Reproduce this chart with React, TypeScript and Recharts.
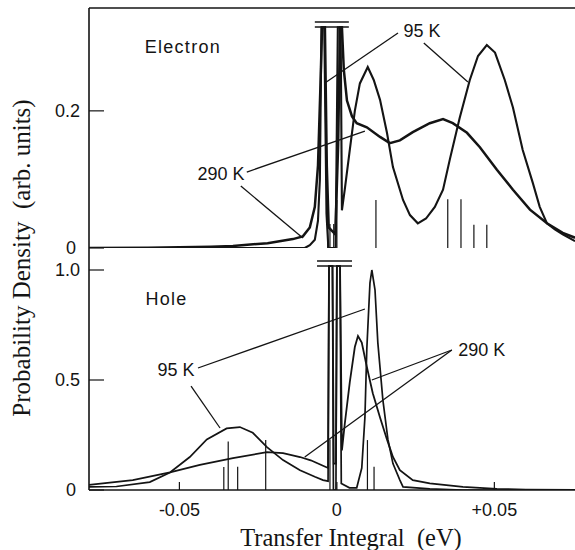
import React from 'react';
import { ComposedChart, Line, XAxis, YAxis, ReferenceLine, ReferenceDot } from 'recharts';

// ---------- axes ----------
const xDomain: [number, number] = [-0.0787, 0.0756];
const xTicks = [-0.05, 0, 0.05];
const xTickLabels = ['-0.05', '0', '+0.05'];

const electronDomain: [number, number] = [0, 0.35];
const electronTicks = [0, 0.2];
const electronTickLabels = ['0', '0.2'];

const holeDomain: [number, number] = [0, 1.1];
const holeTicks = [0, 0.5, 1.0];
const holeTickLabels = ['0', '0.5', '1.0'];

// ---------- Electron panel (x in eV, probability density) ----------
const electron95K: [number, number][] = [
  [-0.0787, 0], [-0.0102, 0.0], [-0.0086, 0.004], [-0.007, 0.012], [-0.006, 0.04],
  [-0.0054, 0.1], [-0.0049, 0.322], [-0.004, 0.322], [-0.0033, 0.05], [-0.0027, 0.0],
  [-0.0004, 0.0], [0.0003, 0.322], [0.0012, 0.322], [0.0016, 0.055], [0.0025, 0.085],
  [0.0041, 0.143], [0.0057, 0.2], [0.0073, 0.24], [0.0098, 0.264], [0.0117, 0.245],
  [0.0137, 0.216], [0.0159, 0.168], [0.0178, 0.118], [0.021, 0.07], [0.0232, 0.048],
  [0.0257, 0.036], [0.0283, 0.043], [0.0311, 0.06], [0.0337, 0.085], [0.0359, 0.13],
  [0.039, 0.19], [0.0422, 0.245], [0.0448, 0.28], [0.0476, 0.296], [0.0502, 0.285],
  [0.0533, 0.245], [0.0559, 0.205], [0.059, 0.143], [0.0622, 0.095], [0.0644, 0.06],
  [0.0667, 0.036], [0.0692, 0.027], [0.0717, 0.02], [0.0756, 0.01],
];

const electron290K: [number, number][] = [
  [-0.0787, 0.0], [-0.06, 0.0005], [-0.05, 0.001], [-0.04, 0.002], [-0.033, 0.003],
  [-0.022, 0.007], [-0.014, 0.013], [-0.0108, 0.017], [-0.0086, 0.03], [-0.007, 0.06],
  [-0.006, 0.12], [-0.0052, 0.24], [-0.0047, 0.322], [-0.0038, 0.322], [-0.0032, 0.12],
  [-0.0026, 0.03], [-0.0005, 0.02], [0.0004, 0.15], [0.001, 0.322], [0.0016, 0.322],
  [0.0022, 0.26], [0.0032, 0.215], [0.0048, 0.192], [0.0063, 0.182], [0.0095, 0.176],
  [0.0137, 0.162], [0.0168, 0.153], [0.02, 0.157], [0.0241, 0.169], [0.0295, 0.182],
  [0.0337, 0.188], [0.0368, 0.182], [0.0413, 0.168], [0.0454, 0.147], [0.0508, 0.114],
  [0.0559, 0.085], [0.0613, 0.056], [0.0667, 0.036], [0.0717, 0.022], [0.0756, 0.015],
];

const electronSticks: [number, number][] = [
  [-0.0029, 0.07], [-0.0022, 0.035], [-0.001, 0.035], [0.0, 0.07], [0.0124, 0.07],
  [0.0352, 0.071], [0.0394, 0.071], [0.0435, 0.034], [0.0476, 0.034],
];

// ---------- Hole panel ----------
const hole95K: [number, number][] = [
  [-0.0787, 0.014], [-0.07, 0.016], [-0.0594, 0.036], [-0.053, 0.08], [-0.0467, 0.15],
  [-0.0413, 0.23], [-0.035, 0.28], [-0.0308, 0.286], [-0.0267, 0.26], [-0.0222, 0.195],
  [-0.0171, 0.136], [-0.0117, 0.09], [-0.007, 0.06], [-0.0044, 0.045], [-0.0028, 0.04],
  [-0.0025, 1.018], [-0.0014, 1.018], [-0.0011, 0.0], [-0.0003, 0.0], [0.0, 1.018],
  [0.001, 1.018], [0.0014, 0.03], [0.004, 0.01], [0.0063, 0.01], [0.0079, 0.1],
  [0.0089, 0.33], [0.0095, 0.64], [0.0105, 0.94], [0.0111, 1.0], [0.0121, 0.91],
  [0.013, 0.67], [0.0146, 0.41], [0.0162, 0.23], [0.0178, 0.12], [0.02, 0.045],
  [0.021, 0.014], [0.0295, 0.005], [0.04, 0.0], [0.0756, 0.0],
];

const hole290K: [number, number][] = [
  [-0.0787, 0.023], [-0.0648, 0.045], [-0.053, 0.08], [-0.0435, 0.114], [-0.033, 0.145],
  [-0.0222, 0.172], [-0.0171, 0.168], [-0.0117, 0.15], [-0.0083, 0.135], [-0.0044, 0.11],
  [-0.0028, 0.1], [-0.0025, 1.018], [-0.0014, 1.018], [-0.001, 0.12], [-0.0003, 0.12],
  [0.0, 1.018], [0.001, 1.018], [0.0016, 0.18], [0.0025, 0.3], [0.0041, 0.49],
  [0.0057, 0.65], [0.0067, 0.7], [0.0079, 0.67], [0.0095, 0.56], [0.0114, 0.44],
  [0.0137, 0.33], [0.0159, 0.23], [0.0178, 0.15], [0.02, 0.09], [0.0241, 0.045],
  [0.0295, 0.03], [0.04, 0.014], [0.0508, 0.005], [0.06, 0.002], [0.0756, 0.0],
];

const holeSticks: [number, number][] = [
  [-0.0359, 0.105], [-0.0345, 0.22], [-0.0315, 0.106], [-0.0226, 0.227],
  [-0.0022, 0.23], [0.0097, 0.227], [0.0118, 0.106],
];

// ---------- annotations (data coordinates) ----------
const electronBreak = { x1: -0.007, x2: 0.0038, y: [0.3296, 0.3223] };
const holeBreak = { x1: -0.0063, x2: 0.0048, y: [1.041, 1.018] };

const electronTexts = [
  { x: -0.0489, y: 0.293, text: 'Electron', spacing: 1.3 },
  { x: 0.027, y: 0.3165, text: '95 K', spacing: 0 },
  { x: -0.0368, y: 0.1086, text: '290 K', spacing: 0 },
];
const electronPointers: [number, number, number, number][] = [
  [0.0194, 0.3135, -0.0038, 0.2406],
  [0.0276, 0.299, 0.0416, 0.242],
  [-0.0286, 0.1108, 0.0089, 0.1706],
  [-0.0305, 0.0904, -0.0108, 0.0146],
];
const holeTexts = [
  { x: -0.0541, y: 0.87, text: 'Hole', spacing: 1.2 },
  { x: -0.0511, y: 0.5455, text: '95 K', spacing: 0 },
  { x: 0.046, y: 0.6364, text: '290 K', spacing: 0 },
];
const holePointers: [number, number, number, number][] = [
  [-0.0441, 0.5545, 0.0089, 0.8227],
  [-0.0463, 0.4727, -0.0371, 0.2818],
  [0.0365, 0.6364, 0.0111, 0.5],
  [0.0365, 0.6364, -0.0102, 0.15],
];

const toPts = (pairs: [number, number][]) => pairs.map(([x, y]) => ({ x, y }));

const INK = '#141414';
const SANS = '"Liberation Sans", Arial, Helvetica, sans-serif';
const SERIF = '"Liberation Serif", "Times New Roman", serif';

const makeYTick = (ticks: number[], labels: string[]) => (props: any) => {
  const { x, y, payload } = props;
  const v = payload.value;
  const label = labels[ticks.indexOf(v)] ?? String(v);
  return (
    <text x={v === 0 ? x - 4 : x} y={y} dy="0.36em" textAnchor="end" fontSize={18} fill={INK} fontFamily={SANS}>
      {label}
    </text>
  );
};

const noTick = () => <g />;

const renderSticks = (sticks: [number, number][]) =>
  sticks.map(([x, h], i) => (
    <ReferenceLine key={`s${i}`} segment={[{ x, y: 0 }, { x, y: h }]} stroke={INK} strokeWidth={1.2} ifOverflow="visible" />
  ));

const renderPointers = (ptrs: [number, number, number, number][]) =>
  ptrs.map(([x1, y1, x2, y2], i) => (
    <ReferenceLine key={`p${i}`} segment={[{ x: x1, y: y1 }, { x: x2, y: y2 }]} stroke={INK} strokeWidth={1.3} ifOverflow="visible" />
  ));

const renderTexts = (texts: { x: number; y: number; text: string; spacing: number }[]) =>
  texts.map((t, i) => (
    <ReferenceDot
      key={`t${i}`}
      x={t.x}
      y={t.y}
      r={0}
      fill="none"
      stroke="none"
      ifOverflow="visible"
      label={{ value: t.text, position: 'center', fill: INK, fontSize: 18, fontFamily: SANS, letterSpacing: t.spacing }}
    />
  ));

const renderBreak = (b: { x1: number; x2: number; y: number[] }) =>
  b.y.map((yy, i) => (
    <ReferenceLine key={`b${i}`} segment={[{ x: b.x1, y: yy }, { x: b.x2, y: yy }]} stroke={INK} strokeWidth={1.6} ifOverflow="visible" />
  ));

export default function App() {
  return (
    <div style={{ position: 'absolute', left: 0, top: 0, width: 575, height: 550, background: '#fff', fontFamily: SANS }}>
      <div style={{ position: 'absolute', left: 0, top: 0 }}>
        <ComposedChart width={575} height={262} margin={{ top: 8, right: 0, bottom: 14, left: 0 }}>
          <XAxis
            dataKey="x"
            type="number"
            domain={xDomain}
            ticks={xTicks}
            interval={0}
            allowDataOverflow
            height={0}
            tick={noTick}
            tickSize={-9}
            axisLine={{ stroke: INK, strokeWidth: 1.6 }}
            tickLine={{ stroke: INK, strokeWidth: 1.2 }}
          />
          <YAxis
            type="number"
            domain={electronDomain}
            ticks={electronTicks}
            interval={0}
            allowDataOverflow
            width={89}
            tickSize={-15}
            tickMargin={24}
            tick={makeYTick(electronTicks, electronTickLabels)}
            axisLine={{ stroke: INK, strokeWidth: 1.6 }}
            tickLine={{ stroke: INK, strokeWidth: 1.2 }}
          />
          <ReferenceLine y={electronDomain[1]} stroke={INK} strokeWidth={1.6} ifOverflow="visible" />
          {renderSticks(electronSticks)}
          <Line data={toPts(electron290K)} dataKey="y" type="linear" dot={false} stroke={INK} strokeWidth={2.5} isAnimationActive={false} />
          <Line data={toPts(electron95K)} dataKey="y" type="linear" dot={false} stroke={INK} strokeWidth={2.1} isAnimationActive={false} />
          {renderBreak(electronBreak)}
          {renderPointers(electronPointers)}
          {renderTexts(electronTexts)}
        </ComposedChart>
      </div>
      <div style={{ position: 'absolute', left: 0, top: 240 }}>
        <ComposedChart width={575} height={310} margin={{ top: 8, right: 0, bottom: 0, left: 0 }}>
          <XAxis
            dataKey="x"
            type="number"
            domain={xDomain}
            ticks={xTicks}
            interval={0}
            allowDataOverflow
            height={60}
            tickSize={-8}
            tickMargin={21}
            tickFormatter={(v: number) => xTickLabels[xTicks.indexOf(v)] ?? String(v)}
            tick={{ fontSize: 18, fill: INK, fontFamily: SANS }}
            axisLine={{ stroke: INK, strokeWidth: 1.6 }}
            tickLine={{ stroke: INK, strokeWidth: 1.2 }}
          />
          <YAxis
            type="number"
            domain={holeDomain}
            ticks={holeTicks}
            interval={0}
            allowDataOverflow
            width={89}
            tickSize={-15}
            tickMargin={24}
            tick={makeYTick(holeTicks, holeTickLabels)}
            axisLine={{ stroke: INK, strokeWidth: 1.6 }}
            tickLine={{ stroke: INK, strokeWidth: 1.2 }}
          />
          {renderSticks(holeSticks)}
          <Line data={toPts(hole290K)} dataKey="y" type="linear" dot={false} stroke={INK} strokeWidth={1.8} isAnimationActive={false} />
          <Line data={toPts(hole95K)} dataKey="y" type="linear" dot={false} stroke={INK} strokeWidth={1.7} isAnimationActive={false} />
          {renderBreak(holeBreak)}
          {renderPointers(holePointers)}
          {renderTexts(holeTexts)}
        </ComposedChart>
      </div>
      <svg width={575} height={550} style={{ position: 'absolute', left: 0, top: 0, pointerEvents: 'none' }}>
        <text x={351} y={546} textAnchor="middle" fontFamily={SERIF} fontSize={24.5} fill={INK} style={{ whiteSpace: 'pre' }}>
          {'Transfer Integral  (eV)'}
        </text>
        <text
          transform="translate(30,258) rotate(-90)"
          textAnchor="middle"
          fontFamily={SERIF}
          fontSize={25}
          fill={INK}
          style={{ whiteSpace: 'pre' }}
        >
          {'Probability Density  (arb. units)'}
        </text>
      </svg>
    </div>
  );
}
